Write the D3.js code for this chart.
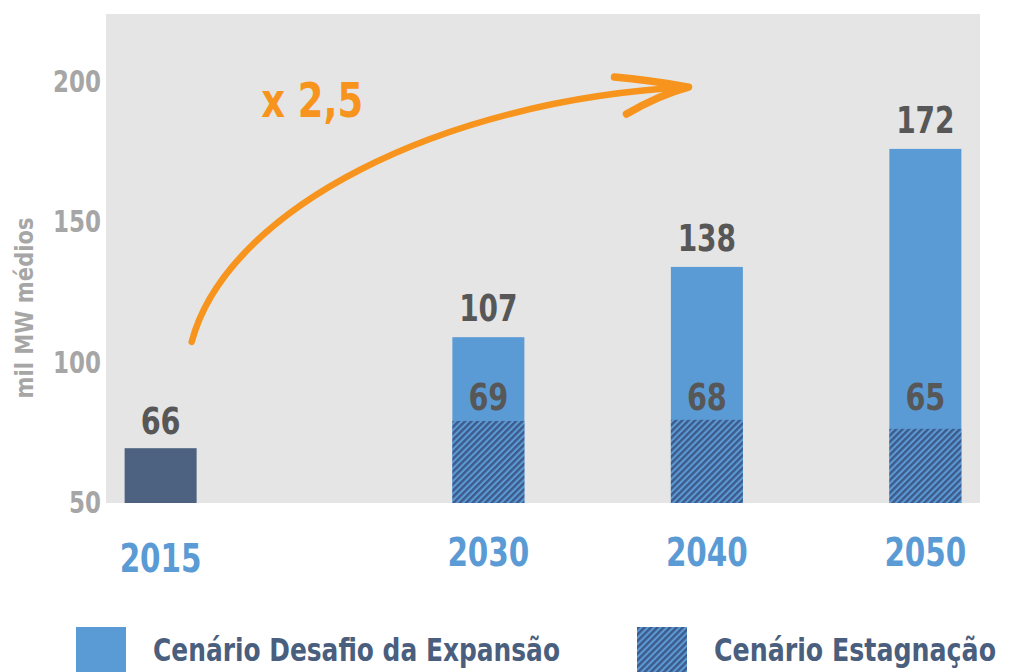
<!DOCTYPE html>
<html>
<head>
<meta charset="utf-8">
<script src="https://cdn.jsdelivr.net/npm/d3@7"></script>
<style>
  html, body { margin: 0; padding: 0; background: #ffffff; }
  svg { display: block; }
  text { font-family: "Liberation Sans Narrow", "DejaVu Sans Condensed", "Arial Narrow", sans-serif; font-weight: bold; }
</style>
</head>
<body>
<svg id="chart" width="1011" height="672"></svg>
<script>
// ---- data ----
const years = [2015, 2030, 2040, 2050];
const baseYear = [2015];
const baseValue = [69.5];            // bar height as drawn (2015)
const baseLabel = ["66"];
const expansionYears = [2030, 2040, 2050];
const expansionValues = [109, 134, 176];   // "Cenário Desafio da Expansão" bar heights as drawn
const expansionLabels = ["107", "138", "172"];
const stagnationValues = [79.2, 79.6, 76.4]; // "Cenário Estagnação" bar heights as drawn
const stagnationLabels = ["69", "68", "65"];
const yTicks = [50, 100, 150, 200];
const yTitle = "mil MW médios";
const legendLabels = ["Cenário Desafio da Expansão", "Cenário Estagnação"];
const growthLabel = "x 2,5";
// annotation arrow: cubic Bézier in data units [year, value] (start, ctrl1, ctrl2, tip)
const arrowBezier = [[2016.42, 107.3], [2018.02, 154.3], [2027.77, 193.4], [2039.16, 198.0]];

// ---- styles ----
const COL_BG = "#e5e5e5";
const COL_BLUE = "#5b9bd5";
const COL_DARK = "#4d6180";
const COL_HATCH = "#3d5a8a";
const COL_LABEL = "#575757";
const COL_AXIS = "#a6a6a6";
const COL_ORANGE = "#f7941d";
const COL_LEGEND = "#4a5e7e";

const svg = d3.select("#chart");

const x = d3.scaleLinear().domain([2012.5, 2052.5]).range([106, 980]);
const y = d3.scaleLinear().domain([50, 224]).range([503, 14]);
const barW = 72;

function fit(sel, perChar) {
  sel.each(function () {
    const t = d3.select(this);
    const n = t.text().length;
    t.attr("textLength", n * perChar).attr("lengthAdjust", "spacingAndGlyphs");
  });
}
function fitTo(sel, w) {
  sel.attr("textLength", w).attr("lengthAdjust", "spacingAndGlyphs");
}

// hatch pattern
const defs = svg.append("defs");
const pat = defs.append("pattern")
  .attr("id", "hatch").attr("patternUnits", "userSpaceOnUse")
  .attr("width", 4.5).attr("height", 4.5)
  .attr("patternTransform", "rotate(45)");
pat.append("rect").attr("width", 4.5).attr("height", 4.5).attr("fill", COL_BLUE);
pat.append("rect").attr("x", 0).attr("width", 2.4).attr("height", 4.5).attr("fill", COL_HATCH);

// plot background
svg.append("rect")
  .attr("x", x.range()[0]).attr("y", y(y.domain()[1]))
  .attr("width", x.range()[1] - x.range()[0])
  .attr("height", y(y.domain()[0]) - y(y.domain()[1]))
  .attr("fill", COL_BG);

// y axis
const yAxis = svg.append("g")
  .attr("transform", `translate(${x.range()[0] - 3},0)`)
  .call(d3.axisLeft(y).tickValues(yTicks).tickSize(0).tickPadding(2));
yAxis.select(".domain").remove();
yAxis.selectAll("text")
  .attr("fill", COL_AXIS)
  .style("font-size", "30px")
  .style("font-family", '"Liberation Sans Narrow", "DejaVu Sans Condensed", sans-serif')
  .style("font-weight", "bold")
  .call(fit, 16);

// y title
svg.append("text")
  .attr("transform", `translate(33,308) rotate(-90)`)
  .attr("text-anchor", "middle")
  .attr("fill", COL_AXIS)
  .style("font-size", "25px")
  .text(yTitle)
  .call(fitTo, 181);

// 2015 bar
svg.selectAll(".base").data(baseYear).enter().append("rect")
  .attr("x", d => x(d) - barW / 2)
  .attr("y", (d, i) => y(baseValue[i]))
  .attr("width", barW)
  .attr("height", (d, i) => y(50) - y(baseValue[i]))
  .attr("fill", COL_DARK);
svg.selectAll(".baseLbl").data(baseYear).enter().append("text")
  .attr("x", d => x(d))
  .attr("y", (d, i) => y(baseValue[i]) - 14)
  .attr("text-anchor", "middle").attr("fill", COL_LABEL)
  .style("font-size", "38px")
  .text((d, i) => baseLabel[i])
  .call(fit, 20);

// expansion bars
svg.selectAll(".exp").data(expansionYears).enter().append("rect")
  .attr("x", d => x(d) - barW / 2)
  .attr("y", (d, i) => y(expansionValues[i]))
  .attr("width", barW)
  .attr("height", (d, i) => y(50) - y(expansionValues[i]))
  .attr("fill", COL_BLUE);
// stagnation bars
svg.selectAll(".stag").data(expansionYears).enter().append("rect")
  .attr("x", d => x(d) - barW / 2)
  .attr("y", (d, i) => y(stagnationValues[i]))
  .attr("width", barW)
  .attr("height", (d, i) => y(50) - y(stagnationValues[i]))
  .attr("fill", "url(#hatch)");

svg.selectAll(".expLbl").data(expansionYears).enter().append("text")
  .attr("x", d => x(d))
  .attr("y", (d, i) => y(expansionValues[i]) - 16)
  .attr("text-anchor", "middle").attr("fill", COL_LABEL)
  .style("font-size", "38px")
  .text((d, i) => expansionLabels[i])
  .call(fit, 19.5);
svg.selectAll(".stagLbl").data(expansionYears).enter().append("text")
  .attr("x", d => x(d))
  .attr("y", (d, i) => Math.min(y(stagnationValues[i]) - 9, 410))
  .attr("text-anchor", "middle").attr("fill", COL_LABEL)
  .style("font-size", "38px")
  .text((d, i) => stagnationLabels[i])
  .call(fit, 20);

// year labels
svg.selectAll(".yr").data(years).enter().append("text")
  .attr("x", d => x(d))
  .attr("y", (d, i) => i === 0 ? 572 : 566)
  .attr("text-anchor", "middle").attr("fill", COL_BLUE)
  .style("font-size", "39px")
  .text(d => d)
  .call(fit, 20.5);

// growth arrow
const bp = arrowBezier.map(d => [x(d[0]), y(d[1])]);
const p = d3.path();
p.moveTo(bp[0][0], bp[0][1]);
p.bezierCurveTo(bp[1][0], bp[1][1], bp[2][0], bp[2][1], bp[3][0], bp[3][1]);
svg.append("path")
  .attr("d", p.toString())
  .attr("fill", "none").attr("stroke", COL_ORANGE)
  .attr("stroke-width", 6.5).attr("stroke-linecap", "round");
const tx = bp[3][0], ty = bp[3][1];
svg.append("path")
  .attr("d", `M${tx - 74},${ty - 10} Q${tx - 40},${ty - 7} ${tx},${ty} Q${tx - 30},${ty + 8} ${tx - 62},${ty + 27}`)
  .attr("fill", "none").attr("stroke", COL_ORANGE)
  .attr("stroke-width", 7.5).attr("stroke-linecap", "round").attr("stroke-linejoin", "round");
svg.append("text")
  .attr("x", x(2019.6)).attr("y", 117)
  .attr("fill", COL_ORANGE)
  .style("font-size", "48px")
  .text(growthLabel)
  .call(fitTo, 102);

// legend
const legend = svg.append("g");
const legX = [76, 637];
const legW = [407, 282];
const legItems = legend.selectAll("g").data(legendLabels).enter().append("g")
  .attr("transform", (d, i) => `translate(${legX[i]},627)`);
legItems.append("rect")
  .attr("width", 50).attr("height", 50)
  .attr("fill", (d, i) => i === 0 ? COL_BLUE : "url(#hatch)");
legItems.append("text")
  .attr("x", 77).attr("y", 34)
  .attr("fill", COL_LEGEND)
  .style("font-size", "32px")
  .text(d => d)
  .each(function (d, i) { d3.select(this).call(fitTo, legW[i]); });
</script>
</body>
</html>
